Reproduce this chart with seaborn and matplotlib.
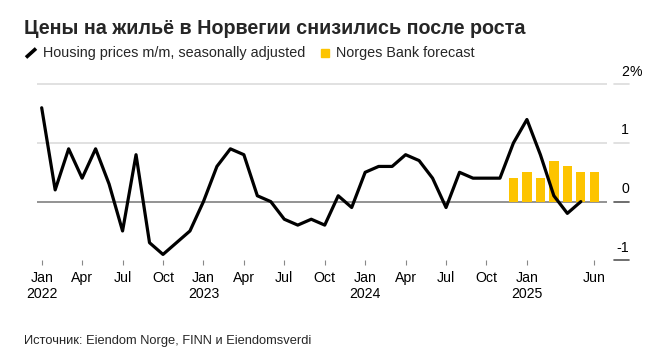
import numpy as np
import pandas as pd
import matplotlib
matplotlib.use("Agg")
import matplotlib.pyplot as plt
import matplotlib.transforms as mtransforms
from matplotlib.lines import Line2D
from matplotlib.patches import Rectangle
import seaborn as sns

# --- data ---
months = pd.period_range("2022-01", "2025-06", freq="M")
housing_mm = [
    1.6, 0.2, 0.9, 0.4, 0.9, 0.3, -0.5, 0.8, -0.7, -0.9, -0.7, -0.5,   # 2022
    0.0, 0.6, 0.9, 0.8, 0.1, 0.0, -0.3, -0.4, -0.3, -0.4, 0.1, -0.1,   # 2023
    0.5, 0.6, 0.6, 0.8, 0.7, 0.4, -0.1, 0.5, 0.4, 0.4, 0.4, 1.0,       # 2024
    1.4, 0.8, 0.1, -0.2, 0.0,                                           # 2025
]
forecast_months = ["2024-12", "2025-01", "2025-02", "2025-03", "2025-04", "2025-05", "2025-06"]
forecast_vals = [0.4, 0.5, 0.4, 0.7, 0.6, 0.5, 0.5]

tick_months = ["2022-01", "2022-04", "2022-07", "2022-10",
               "2023-01", "2023-04", "2023-07", "2023-10",
               "2024-01", "2024-04", "2024-07", "2024-10",
               "2025-01", "2025-06"]
tick_labels = ["Jan\n2022", "Apr", "Jul", "Oct",
               "Jan\n2023", "Apr", "Jul", "Oct",
               "Jan\n2024", "Apr", "Jul", "Oct",
               "Jan\n2025", "Jun"]
y_levels = [2, 1, 0, -1]
y_labels = ["2", "1", "0", "-1"]

title = "Цены на жильё в Норвегии снизились после роста"
legend_line = "Housing prices m/m, seasonally adjusted"
legend_bar = "Norges Bank forecast"
source = "Источник: Eiendom Norge, FINN и Eiendomsverdi"

YELLOW = "#FDC400"

# month index helper
def midx(p):
    return (pd.Period(p, freq="M") - months[0]).n

line_df = pd.DataFrame({"m": np.arange(len(housing_mm)), "v": housing_mm})
fc_df = pd.DataFrame({"m": [midx(m) for m in forecast_months], "v": forecast_vals})

sns.set_theme(style="white")
plt.rcParams["font.family"] = ["Liberation Sans", "DejaVu Sans"]

W, H = 663, 355
fig = plt.figure(figsize=(W / 100, H / 100), dpi=100)

def fx(px):
    return px / W

def fy(py):
    return 1 - py / H

ylo, yhi = -1.0, 2.05
ax_left, ax_right = 36.7, 606.7
ax_bottom, ax_top = 260.3, 84.3 - 0.05 * 58.7
ax = fig.add_axes([fx(ax_left), fy(ax_bottom), fx(ax_right - ax_left), (ax_bottom - ax_top) / H])

# gridlines
for lv in [1, 2]:
    ax.axhline(lv, color="#dcdcdc", lw=1.2, zorder=0)
ax.axhline(0, color="#808080", lw=1.2, zorder=1)

# forecast bars (numeric month axis)
ax.bar(fc_df["m"], fc_df["v"], width=0.69, color=YELLOW, zorder=2, linewidth=0)
sns.lineplot(data=line_df, x="m", y="v", color="black", lw=2.3, ax=ax, zorder=3)

ax.set_xlim(-0.37, 41.92)
ax.set_ylim(ylo, yhi)
ax.set_xlabel("")
ax.set_ylabel("")
for s in ax.spines.values():
    s.set_visible(False)

ax.set_xticks([midx(m) for m in tick_months])
ax.set_xticklabels(tick_labels, fontsize=10.2, linespacing=1.15)
ax.tick_params(axis="x", bottom=True, length=3.8, width=0.8, color="#888888",
               pad=4, labelcolor="black", direction="out")
ax.set_yticks([])

# right-side value labels with short tick segments
ytr = ax.get_yaxis_transform()
x0 = (614 - ax_left) / (ax_right - ax_left)
x1 = (629 - ax_left) / (ax_right - ax_left)
lab_tr = mtransforms.offset_copy(ytr, fig=fig, x=0, y=8.7 * 72 / 100, units="points")
for lv, lab in zip(y_levels, y_labels):
    col = "#dcdcdc" if lv > 0 else "#555555"
    ax.plot([x0, x1], [lv, lv], color=col, lw=1.2, transform=ytr, clip_on=False)
    ax.text(x1, lv, lab, transform=lab_tr, ha="right", va="baseline",
            fontsize=10.2, color="black")
ax.text(x1, 2, "%", transform=lab_tr, ha="left", va="baseline", fontsize=10.2, color="black")

# title, legend, source
fig.text(fx(24), fy(34), title, fontsize=14.2, fontweight="bold", ha="left", va="baseline")
fig.add_artist(Line2D([fx(26), fx(36)], [fy(57.5), fy(48.5)], color="black", lw=2.6,
                      solid_capstyle="butt"))
fig.text(fx(43), fy(57.3), legend_line, fontsize=10.4, ha="left", va="baseline")
fig.add_artist(Rectangle((fx(321), fy(57.3)), fx(8.3), 8.3 / H, color=YELLOW,
                         transform=fig.transFigure))
fig.text(fx(335.5), fy(57.3), legend_bar, fontsize=10.4, ha="left", va="baseline")
fig.text(fx(24), fy(344.3), source, fontsize=9.3, ha="left", va="baseline")

fig.savefig("out.png", dpi=100, facecolor="white")
